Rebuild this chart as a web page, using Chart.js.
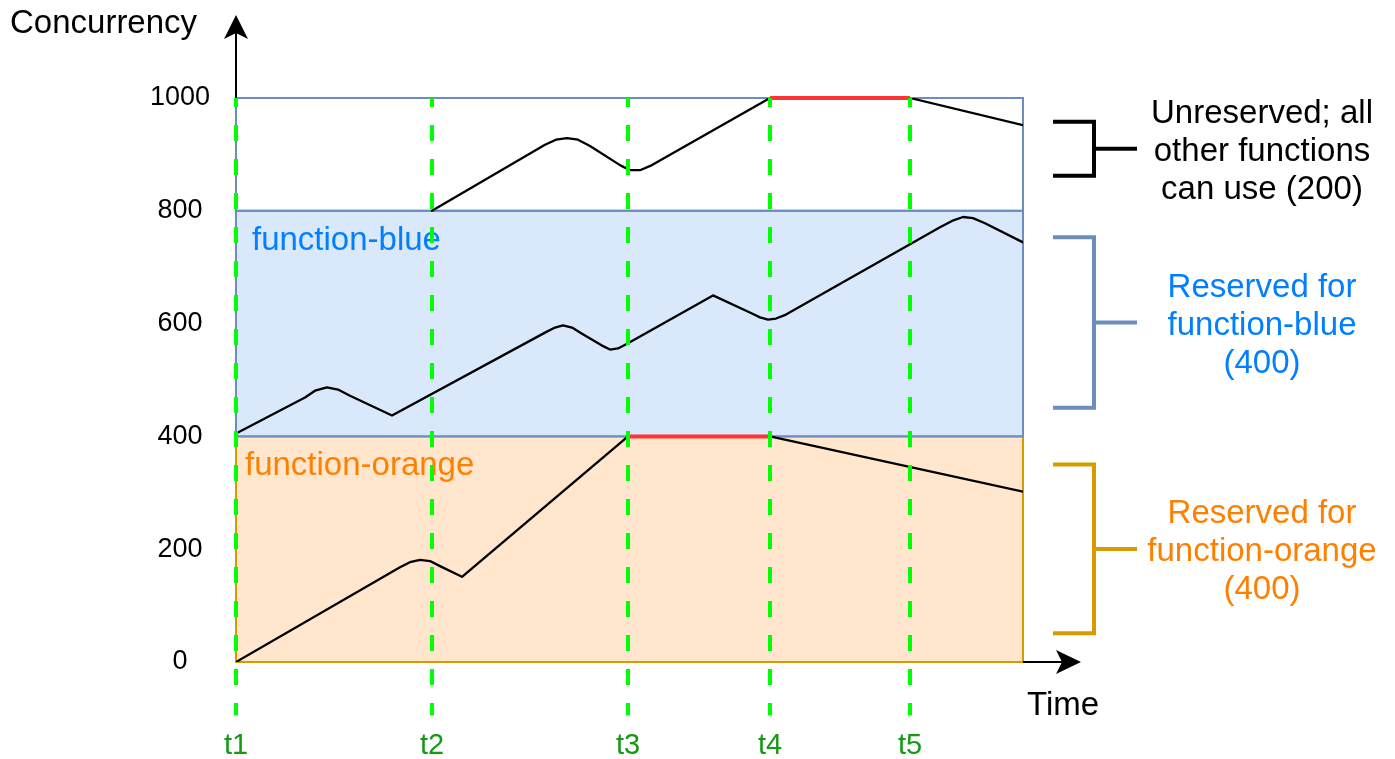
<!DOCTYPE html>
<html>
<head>
<meta charset="utf-8">
<script src="https://cdn.jsdelivr.net/npm/chart.js@4/dist/chart.umd.min.js"></script>
<style>
  html, body { margin: 0; padding: 0; background: #fff; }
  #wrap { width: 1395px; height: 759px; position: relative; }
</style>
</head>
<body>
<div id="wrap"><canvas id="concurrencyChart"></canvas></div>
<script>
// Time markers and axis range
const timeLabels = ['t1', 't2', 't3', 't4', 't5'];
const timePos = [0, 196, 392, 534, 674];
const timeEnd = 787;
const yTickValues = [0, 200, 400, 600, 800, 1000];

// function-orange usage
const orangeX = [0, 164, 174, 184, 194, 204, 226, 392, 534, 787];
const orangeY = [0, 168, 177, 181, 179, 170, 151, 400, 400, 302];

// function-blue usage
const blueX = [0, 69, 79, 91, 102, 114, 156, 309, 319, 327, 336, 346, 366, 374, 382, 392,
    477, 516, 524, 532, 540, 550, 704, 716, 727, 737, 749, 787];
const blueY = [405, 469, 481, 487, 483, 472, 437, 584, 593, 597, 593, 582, 561, 554, 556, 565,
    650, 618, 611, 607, 609, 616, 771, 782, 789, 787, 778, 744];

// unreserved pool usage
const otherX = [196, 309, 320, 331, 342, 354, 384, 394, 404, 416, 534, 674, 787];
const otherY = [800, 917, 926, 929, 926, 915, 881, 872, 872, 881, 1000, 1000, 952];

// throttled stretches (at the limit)
const limitOrangeX = [392, 534];
const limitOrangeY = [400, 400];
const limitTopX = [534, 674];
const limitTopY = [1000, 1000];

// concurrency pools
const bandNames = ['function-orange', 'function-blue', 'unreserved'];
const bandFrom = [0, 400, 800];
const bandTo = [400, 800, 1000];

// right-hand braces (value ranges) and their captions
const braceFrom = [51, 451, 862];
const braceTo = [350, 753, 958];
const braceText = [
    ['Reserved for', 'function-orange', '(400)'],
    ['Reserved for', 'function-blue', '(400)'],
    ['Unreserved; all', 'other functions', 'can use (200)']
];

const FONT = "'Liberation Sans', Arial, Helvetica, sans-serif";
const bandFill = ['#FFE6CC', '#DAE8FC', '#FFFFFF'];
const bandStroke = ['#D79B00', '#6C8EBF', '#6C8EBF'];
const braceColor = ['#D79B00', '#6C8EBF', '#000000'];
const textColor = ['#FF8000', '#007FFF', '#000000'];

const toPoints = (xs, ys) => xs.map((x, i) => ({ x: x, y: ys[i] }));

const usageLine = (xs, ys) => ({
    data: toPoints(xs, ys),
    borderColor: '#000000',
    borderWidth: 2.3,
    pointRadius: 0,
    tension: 0,
    borderJoinStyle: 'round',
    borderCapStyle: 'round'
});

const limitLine = (xs, ys) => ({
    data: toPoints(xs, ys),
    borderColor: '#FF3333',
    borderWidth: 4,
    pointRadius: 0,
    clip: false
});

// green dashed markers run from the top of the plot down past the axis
const markerSets = timePos.map(t => ({
    data: [{ x: t, y: 1000 }, { x: t, y: -95 }],
    borderColor: '#00FF00',
    borderWidth: 4,
    borderDash: [16, 18],
    borderDashOffset: 7,
    pointRadius: 0,
    clip: false
}));

const diagramPlugin = {
    id: 'diagram',
    beforeDatasetsDraw(chart) {
        const { ctx, scales: { x, y } } = chart;
        const left = x.getPixelForValue(0);
        const right = x.getPixelForValue(timeEnd);
        ctx.save();
        bandFrom.forEach((from, i) => {
            const top = y.getPixelForValue(bandTo[i]);
            const bottom = y.getPixelForValue(from);
            ctx.fillStyle = bandFill[i];
            ctx.fillRect(left, top, right - left, bottom - top);
        });
        bandFrom.forEach((from, i) => {
            const top = y.getPixelForValue(bandTo[i]);
            const bottom = y.getPixelForValue(from);
            ctx.strokeStyle = bandStroke[i];
            ctx.lineWidth = 2;
            ctx.strokeRect(left, top, right - left, bottom - top);
        });
        // pool names inside the bands
        ctx.font = '33px ' + FONT;
        ctx.textBaseline = 'middle';
        ctx.textAlign = 'left';
        ctx.fillStyle = textColor[1];
        ctx.fillText(bandNames[1], left + 16, y.getPixelForValue(bandTo[1]) + 30);
        ctx.fillStyle = textColor[0];
        ctx.fillText(bandNames[0], left + 9, y.getPixelForValue(bandTo[0]) + 30);
        ctx.restore();
    },
    afterDraw(chart) {
        const { ctx, scales: { x, y } } = chart;
        const x0 = x.getPixelForValue(0);
        const y0 = y.getPixelForValue(0);
        const yTop = y.getPixelForValue(1000);
        const xEnd = x.getPixelForValue(timeEnd);
        ctx.save();
        ctx.strokeStyle = '#000';
        ctx.fillStyle = '#000';
        ctx.lineWidth = 2;

        // y axis arrow
        ctx.beginPath();
        ctx.moveTo(x0, yTop);
        ctx.lineTo(x0, 30);
        ctx.stroke();
        ctx.beginPath();
        ctx.moveTo(x0, 15);
        ctx.lineTo(x0 + 12, 39);
        ctx.lineTo(x0, 33);
        ctx.lineTo(x0 - 12, 39);
        ctx.closePath();
        ctx.fill();

        // x axis arrow
        ctx.beginPath();
        ctx.moveTo(xEnd, y0);
        ctx.lineTo(xEnd + 45, y0);
        ctx.stroke();
        ctx.beginPath();
        ctx.moveTo(xEnd + 58, y0);
        ctx.lineTo(xEnd + 33, y0 - 12);
        ctx.lineTo(xEnd + 39, y0);
        ctx.lineTo(xEnd + 33, y0 + 12);
        ctx.closePath();
        ctx.fill();

        ctx.font = '33px ' + FONT;
        ctx.textBaseline = 'middle';
        ctx.textAlign = 'left';
        ctx.fillText('Concurrency', 10, 24);
        ctx.fillText('Time', xEnd + 4, 706);

        // braces with captions
        braceFrom.forEach((from, i) => {
            const top = y.getPixelForValue(braceTo[i]);
            const bottom = y.getPixelForValue(from);
            const mid = (top + bottom) / 2;
            ctx.strokeStyle = braceColor[i];
            ctx.lineWidth = 4;
            ctx.lineJoin = 'miter';
            ctx.beginPath();
            ctx.moveTo(1053, top);
            ctx.lineTo(1094, top);
            ctx.lineTo(1094, bottom);
            ctx.lineTo(1053, bottom);
            ctx.stroke();
            ctx.beginPath();
            ctx.moveTo(1094, mid);
            ctx.lineTo(1137, mid);
            ctx.stroke();

            ctx.fillStyle = textColor[i];
            ctx.textAlign = 'center';
            braceText[i].forEach((line, k) => {
                ctx.fillText(line, 1262, mid + 3 + (k - 1) * 38);
            });
        });
        ctx.restore();
    }
};

new Chart(document.getElementById('concurrencyChart'), {
    type: 'line',
    data: {
        datasets: [
            ...markerSets,
            limitLine(limitOrangeX, limitOrangeY),
            limitLine(limitTopX, limitTopY),
            usageLine(orangeX, orangeY),
            usageLine(blueX, blueY),
            usageLine(otherX, otherY)
        ]
    },
    options: {
        responsive: true,
        maintainAspectRatio: false,
        animation: false,
        layout: { padding: { top: 98, right: 372, bottom: 0, left: 0 } },
        plugins: {
            legend: { display: false },
            tooltip: { enabled: false }
        },
        scales: {
            x: {
                type: 'linear',
                min: 0,
                max: timeEnd,
                grid: { display: false, drawTicks: false },
                border: { display: false },
                afterBuildTicks: (scale) => { scale.ticks = timePos.map(v => ({ value: v })); },
                afterFit: (scale) => { scale.height = 97; },
                ticks: {
                    autoSkip: false,
                    maxRotation: 0,
                    padding: 67,
                    color: '#169A16',
                    font: { family: FONT, size: 29 },
                    callback: (value, index) => timeLabels[index]
                }
            },
            y: {
                min: 0,
                max: 1000,
                grid: { display: false, drawTicks: false },
                border: { display: false },
                afterBuildTicks: (scale) => { scale.ticks = yTickValues.map(v => ({ value: v })); },
                afterFit: (scale) => { scale.width = 236; },
                ticks: {
                    padding: 26,
                    crossAlign: 'center',
                    color: '#000000',
                    font: { family: FONT, size: 27 },
                    callback: (value) => String(value)
                }
            }
        }
    },
    plugins: [diagramPlugin]
});
</script>
</body>
</html>
